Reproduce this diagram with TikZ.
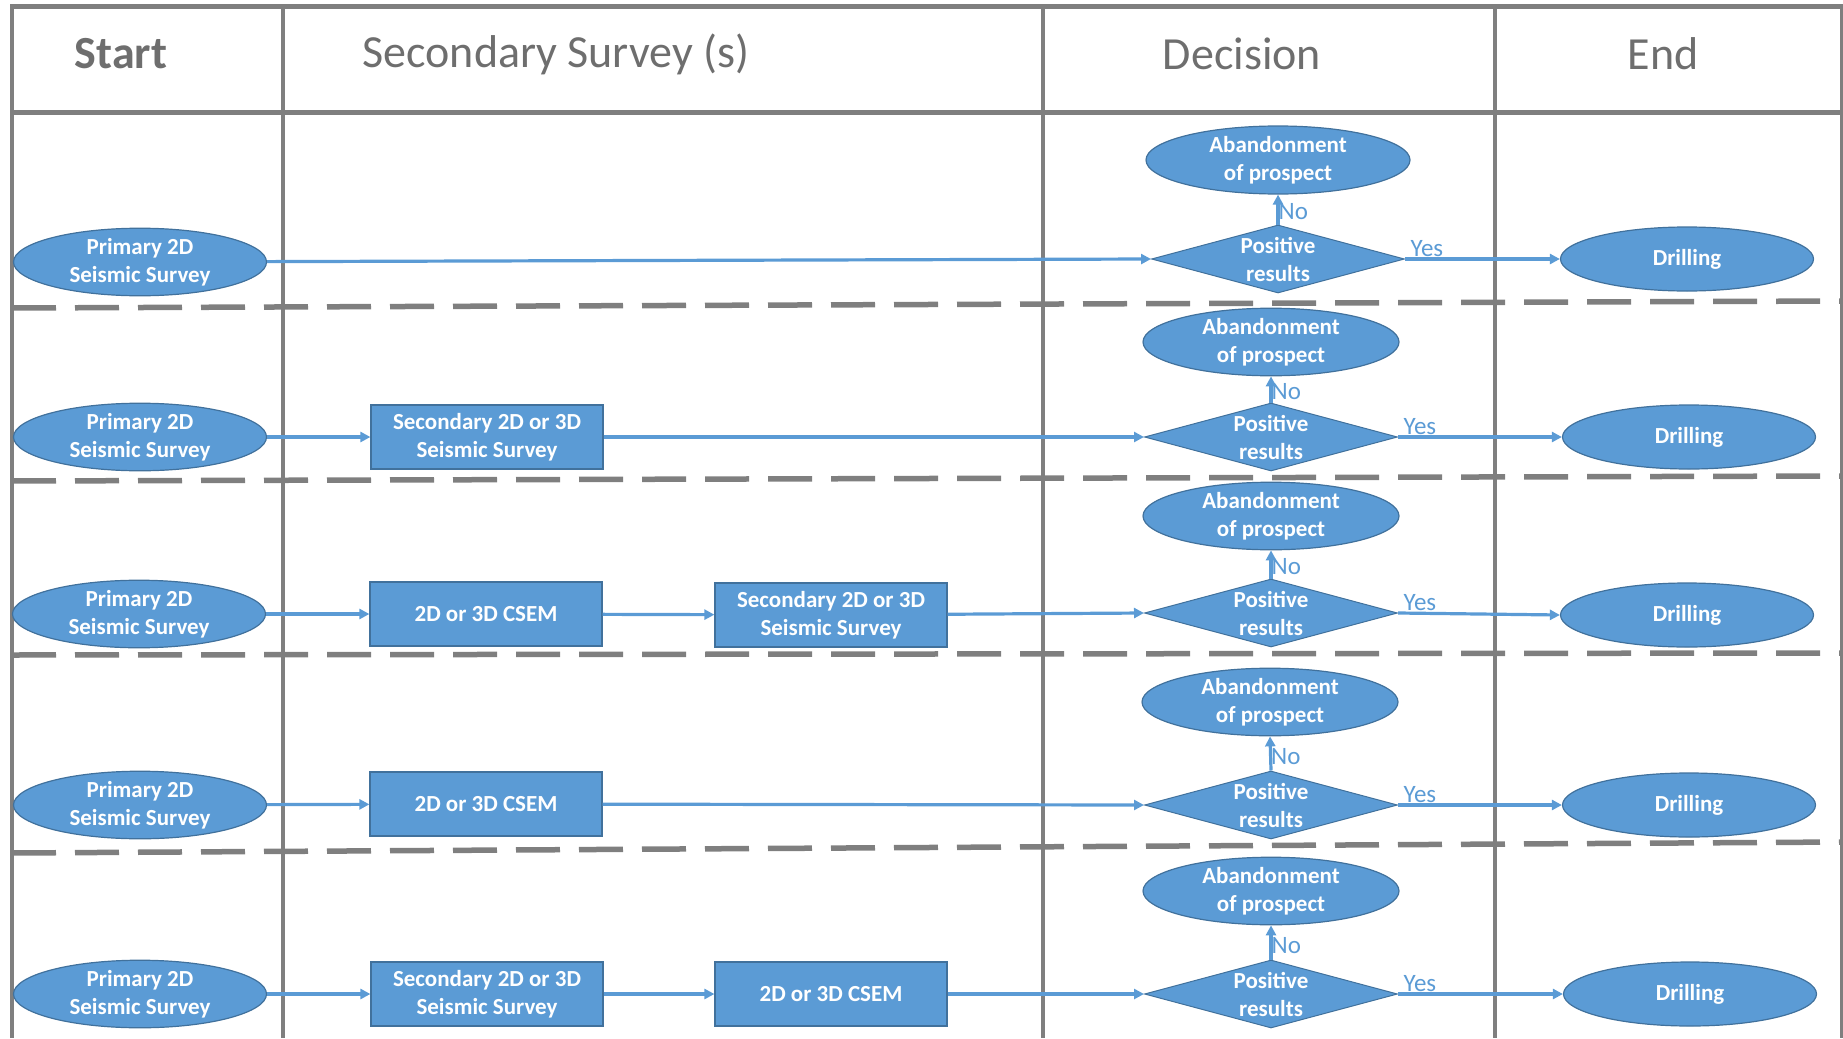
\documentclass[tikz,border=0pt]{standalone}
\usepackage{fontspec}
\setmainfont{Carlito}
\usetikzlibrary{shapes.geometric,arrows.meta}
\definecolor{nodeblue}{HTML}{5B9BD5}
\definecolor{nodeedge}{HTML}{41719C}
\definecolor{arrowblue}{HTML}{5B9BD5}
\definecolor{gridgray}{HTML}{7F7F7F}
\definecolor{headgray}{HTML}{6E6E6E}
\tikzset{
  nodetext/.style={text=white,font={\bfseries\fontsize{23}{28}\selectfont},align=center},
  oval/.style={ellipse,fill=nodeblue,draw=nodeedge,line width=1.2pt,minimum width=253pt,minimum height=64pt,inner sep=0pt,nodetext},
  aband/.style={oval,minimum width=256pt,minimum height=66pt},
  sbox/.style={rectangle,fill=nodeblue,draw=nodeedge,line width=1.2pt,minimum width=232pt,minimum height=64pt,inner sep=0pt,nodetext},
  decide/.style={diamond,fill=nodeblue,draw=nodeedge,line width=1pt,aspect=3.72,minimum width=253pt,minimum height=68pt,inner sep=0pt},
  dlab/.style={nodetext},
  flow/.style={draw=arrowblue,line width=3.2pt,-{Triangle[length=10pt,width=10pt]}},
  lab/.style={text=arrowblue,font={\fontsize{25}{28}\selectfont},inner sep=1pt},
  grid/.style={draw=gridgray,line width=4pt},
  sep/.style={draw=gridgray,line width=5.5pt,dash pattern=on 44pt off 19pt},
  head/.style={text=headgray,font={\fontsize{46}{50}\selectfont}}
}
\begin{document}
\begin{tikzpicture}[x=1pt,y=-1pt]
\useasboundingbox (0,0) rectangle (1843,1038);
% grid
\draw[grid,line width=5pt] (10,7) -- (1843,7);
\draw[grid,line width=5pt] (10,113) -- (1843,113);
\draw[grid] (12,5) -- (12,1038);
\draw[grid] (283,5) -- (283,1038);
\draw[grid] (1043,5) -- (1043,1038);
\draw[grid] (1495,5) -- (1495,1038);
\draw[grid,line width=3pt] (1841,5) -- (1841,1038);
% separators
\draw[sep] (12,308) -- (1843,301);
\draw[sep] (12,481) -- (1843,476);
\draw[sep] (12,655) -- (1843,653);
\draw[sep] (12,853) -- (1843,842);
% headers
\node[head,font={\bfseries\fontsize{46}{50}\selectfont}] (hstart) at (121,54) {Start};
\node[head] (hsec) at (556,54) {Secondary Survey (s)};
\node[head] (hdec) at (1242,54) {Decision};
\node[head] (hend) at (1663,54) {End};

% Row 1
\node[oval] (p1) at (140,262) {Primary 2D\\Seismic Survey};
\node[decide,label={[dlab]center:Positive\\results}] (d1) at (1278,259) {};
\node[aband,minimum width=264pt,minimum height=68pt] (a1) at (1278,160) {Abandonment\\of prospect};
\node[oval] (e1) at (1687,259) {Drilling};
\draw[flow] (p1) -- (d1.west);
\draw[flow] (d1.north) -- node[lab,pos=0.42,anchor=west,xshift=-2pt]{No} (a1.south);
\draw[flow] (d1.east) -- node[lab,at start,anchor=south west,xshift=3pt,yshift=0pt]{Yes} (e1.west);

% Row 2
\node[oval] (p2) at (140,437) {Primary 2D\\Seismic Survey};
\node[sbox] (b21) at (487,437) {Secondary 2D or 3D\\Seismic Survey};
\node[decide,label={[dlab]center:Positive\\results}] (d2) at (1271,437) {};
\node[aband] (a2) at (1271,342) {Abandonment\\of prospect};
\node[oval] (e2) at (1689,437) {Drilling};
\draw[flow] (p2) -- (b21);
\draw[flow] (b21) -- (d2.west);
\draw[flow] (d2.north) -- node[lab,pos=0.42,anchor=west,xshift=-2pt]{No} (a2.south);
\draw[flow] (d2.east) -- node[lab,at start,anchor=south west,xshift=3pt,yshift=0pt]{Yes} (e2.west);

% Row 3
\node[oval] (p3) at (139,614) {Primary 2D\\Seismic Survey};
\node[sbox] (b31) at (486,614) {2D or 3D CSEM};
\node[sbox] (b32) at (831,615) {Secondary 2D or 3D\\Seismic Survey};
\node[decide,label={[dlab]center:Positive\\results}] (d3) at (1271,613) {};
\node[aband] (a3) at (1271,516) {Abandonment\\of prospect};
\node[oval] (e3) at (1687,615) {Drilling};
\draw[flow] (p3) -- (b31);
\draw[flow] (b31) -- (b32);
\draw[flow] (b32) -- (d3.west);
\draw[flow] (d3.north) -- node[lab,pos=0.42,anchor=west,xshift=-2pt]{No} (a3.south);
\draw[flow] (d3.east) -- node[lab,at start,anchor=south west,xshift=3pt,yshift=0pt]{Yes} (e3.west);

% Row 4
\node[oval] (p4) at (140,805) {Primary 2D\\Seismic Survey};
\node[sbox] (b41) at (486,804) {2D or 3D CSEM};
\node[decide,label={[dlab]center:Positive\\results}] (d4) at (1271,805) {};
\node[aband] (a4) at (1270,702) {Abandonment\\of prospect};
\node[oval] (e4) at (1689,805) {Drilling};
\draw[flow] (p4) -- (b41);
\draw[flow] (b41) -- (d4.west);
\draw[flow] (d4.north) -- node[lab,pos=0.42,anchor=west,xshift=-2pt]{No} (a4.south);
\draw[flow] (d4.east) -- node[lab,at start,anchor=south west,xshift=3pt,yshift=0pt]{Yes} (e4.west);

% Row 5
\node[oval] (p5) at (140,994) {Primary 2D\\Seismic Survey};
\node[sbox] (b51) at (487,994) {Secondary 2D or 3D\\Seismic Survey};
\node[sbox] (b52) at (831,994) {2D or 3D CSEM};
\node[decide,label={[dlab]center:Positive\\results}] (d5) at (1271,994) {};
\node[aband] (a5) at (1271,891) {Abandonment\\of prospect};
\node[oval] (e5) at (1690,994) {Drilling};
\draw[flow] (p5) -- (b51);
\draw[flow] (b51) -- (b52);
\draw[flow] (b52) -- (d5.west);
\draw[flow] (d5.north) -- node[lab,pos=0.42,anchor=west,xshift=-2pt]{No} (a5.south);
\draw[flow] (d5.east) -- node[lab,at start,anchor=south west,xshift=3pt,yshift=0pt]{Yes} (e5.west);
\end{tikzpicture}
\end{document}
